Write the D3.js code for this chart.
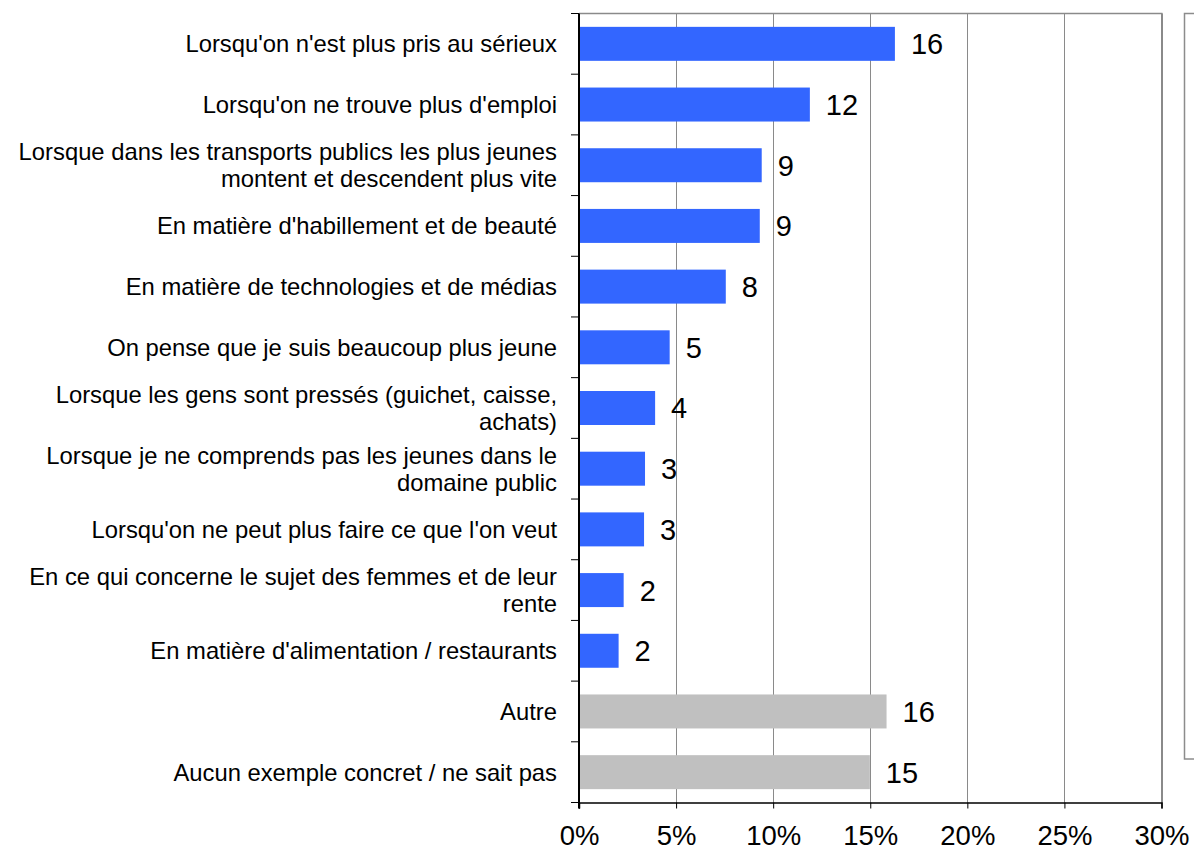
<!DOCTYPE html>
<html><head><meta charset="utf-8">
<script src="https://cdn.jsdelivr.net/npm/d3@7"></script>
<style>body{margin:0;background:#fff;} svg{display:block;font-family:"Liberation Sans",Arial,sans-serif;}</style>
</head><body>
<svg id="c" width="1194" height="850"></svg>
<script>
const categories = [
  ["Lorsqu'on n'est plus pris au sérieux"],
  ["Lorsqu'on ne trouve plus d'emploi"],
  ["Lorsque dans les transports publics les plus jeunes","montent et descendent plus vite"],
  ["En matière d'habillement et de beauté"],
  ["En matière de technologies et de médias"],
  ["On pense que je suis beaucoup plus jeune"],
  ["Lorsque les gens sont pressés (guichet, caisse,","achats)"],
  ["Lorsque je ne comprends pas les jeunes dans le","domaine public"],
  ["Lorsqu'on ne peut plus faire ce que l'on veut"],
  ["En ce qui concerne le sujet des femmes et de leur","rente"],
  ["En matière d'alimentation / restaurants"],
  ["Autre"],
  ["Aucun exemple concret / ne sait pas"]
];
const values = [16.27, 11.89, 9.41, 9.31, 7.56, 4.67, 3.92, 3.40, 3.35, 2.30, 2.04, 15.84, 14.98];
const valueLabels = ["16","12","9","9","8","5","4","3","3","2","2","16","15"];
const groups = ["main","main","main","main","main","main","main","main","main","main","main","other","other"];
const xTicks = [0,5,10,15,20,25,30];

const svg = d3.select("#c");
const L = 579, R = 1161.5, T = 13.5, B = 802.5;
const x = d3.scaleLinear().domain([0,30]).range([L,R]);
const idx = d3.range(categories.length);
const y = d3.scaleBand().domain(idx).range([T,B]).paddingInner(0.44).paddingOuter(0.22);
const color = d3.scaleOrdinal().domain(["main","other"]).range(["#3366FF","#C0C0C0"]);

// legend box (empty)
svg.append("rect").attr("x",1184.5).attr("y",13.5).attr("width",20).attr("height",745.5)
  .attr("fill","#fff").attr("stroke","#8c8c8c").attr("stroke-width",1.5);

// gridlines
svg.append("g").selectAll("line").data(xTicks.filter(d=>d>0&&d<30)).join("line")
  .attr("x1",d=>Math.round(x(d))+0.5).attr("x2",d=>Math.round(x(d))+0.5)
  .attr("y1",T).attr("y2",B).attr("stroke","#8a8a8a").attr("stroke-width",1);
// top & right border
svg.append("line").attr("x1",L).attr("x2",R+1).attr("y1",T).attr("y2",T).attr("stroke","#8a8a8a").attr("stroke-width",1.5);
svg.append("line").attr("x1",R+0.5).attr("x2",R+0.5).attr("y1",T).attr("y2",B).attr("stroke","#8a8a8a").attr("stroke-width",2);

// bars
svg.append("g").selectAll("rect").data(idx).join("rect")
  .attr("x",L).attr("y",i=>y(i)).attr("width",i=>x(values[i])-L).attr("height",y.bandwidth())
  .attr("fill",i=>color(groups[i]));

// value labels
svg.append("g").selectAll("text").data(idx).join("text")
  .attr("x",i=>x(values[i])+16).attr("y",i=>y(i)+y.bandwidth()/2).attr("dy","0.36em")
  .attr("font-size",29).attr("fill","#000").text(i=>valueLabels[i]);

// x axis
const xa = svg.append("g").attr("transform",`translate(0,${B})`)
  .call(d3.axisBottom(x).tickValues(xTicks).tickSize(6).tickPadding(17).tickFormat(d=>d+"%"));
xa.select(".domain").attr("stroke","#000").attr("stroke-width",1.5);
xa.selectAll(".tick line").attr("stroke","#000");
xa.selectAll("text").attr("font-size",27.5).attr("font-family","Liberation Sans, Arial, sans-serif").attr("fill","#000");

// y axis line + ticks at band boundaries
svg.append("line").attr("x1",L).attr("x2",L).attr("y1",T).attr("y2",B+6).attr("stroke","#000").attr("stroke-width",2);
svg.append("g").selectAll("line").data(d3.range(categories.length+1)).join("line")
  .attr("x1",L-8).attr("x2",L).attr("y1",k=>T+k*y.step()).attr("y2",k=>T+k*y.step())
  .attr("stroke","#000").attr("stroke-width",1);

// category labels
const lh = 27;
const cl = svg.append("g").selectAll("text").data(idx).join("text")
  .attr("text-anchor","end").attr("font-size",23.8).attr("fill","#000");
cl.each(function(i){
  const lines = categories[i];
  const cy = y(i)+y.bandwidth()/2;
  const t = d3.select(this);
  lines.forEach((s,j)=>{
    t.append("tspan").attr("x",557).attr("y",cy+(j-(lines.length-1)/2)*lh).attr("dy","0.36em").text(s);
  });
});
</script>
</body></html>
